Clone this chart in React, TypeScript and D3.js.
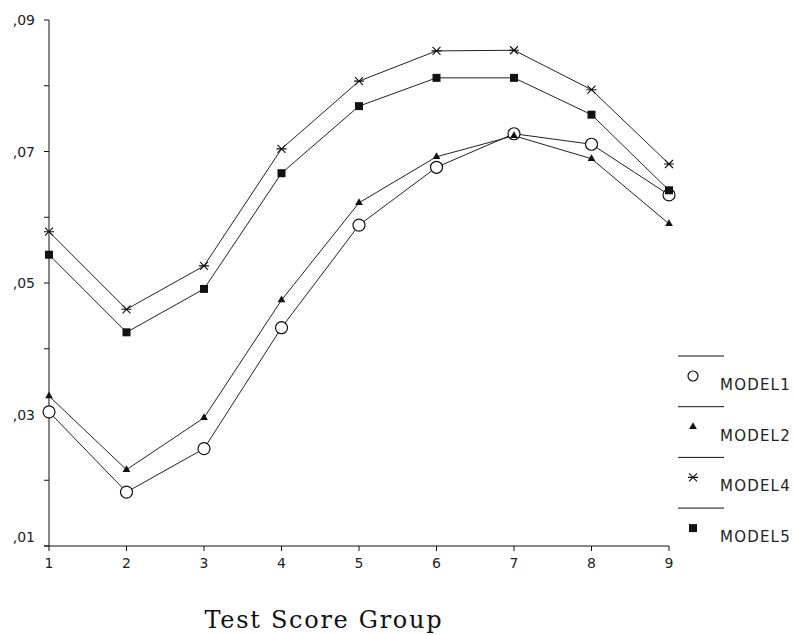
import * as d3 from 'd3';
import { useEffect, useRef } from 'react';

const groups = [1, 2, 3, 4, 5, 6, 7, 8, 9];
const model1 = [0.0304, 0.0182, 0.0248, 0.0432, 0.0588, 0.0676, 0.0727, 0.0711, 0.0634];
const model2 = [0.0328, 0.0216, 0.0295, 0.0474, 0.0622, 0.0692, 0.0724, 0.0689, 0.059];
const model4 = [0.0578, 0.046, 0.0526, 0.0704, 0.0807, 0.0853, 0.0854, 0.0794, 0.0681];
const model5 = [0.0543, 0.0425, 0.0491, 0.0667, 0.0769, 0.0812, 0.0812, 0.0756, 0.0641];
const yTicks = [0.01, 0.02, 0.03, 0.04, 0.05, 0.06, 0.07, 0.08, 0.09];
const yLabels = [0.01, 0.03, 0.05, 0.07, 0.09];
const seriesNames = ['MODEL1', 'MODEL2', 'MODEL4', 'MODEL5'];

const W = 795;
const H = 635;

// draws a marker of the given kind into a <g>
function drawMarker(g: any, kind: string, small = false) {
  if (kind === 'circle') {
    g.append('circle')
      .attr('r', small ? 5 : 6)
      .attr('fill', 'white')
      .attr('stroke', '#111')
      .attr('stroke-width', 1.2);
  } else if (kind === 'triangle') {
    g.append('path').attr('d', d3.symbol().type(d3.symbolTriangle).size(26)()).attr('fill', '#111');
  } else if (kind === 'star') {
    g.append('path')
      .attr('d', 'M-5,0H5M-4,-4L4,4M-4,4L4,-4')
      .attr('stroke', '#111')
      .attr('stroke-width', 1.1)
      .attr('fill', 'none');
  } else {
    g.append('path').attr('d', d3.symbol().type(d3.symbolSquare).size(64)()).attr('fill', '#111');
  }
}

export default function App() {
  const ref = useRef<SVGSVGElement>(null);

  useEffect(() => {
    const svg = d3.select(ref.current);
    svg.selectAll('*').remove();

    const x = d3.scaleLinear().domain([1, 9]).range([49, 669]);
    const y = d3.scaleLinear().domain([0.01, 0.09]).range([546, 20]);
    const fmt = (v: number) => ',' + d3.format('02d')(Math.round(v * 100));

    const font = '"DejaVu Sans", "Liberation Sans", sans-serif';

    // y axis
    svg.append('line').attr('x1', 49).attr('x2', 49).attr('y1', y(0.09)).attr('y2', y(0.01)).attr('stroke', '#111');
    svg
      .selectAll('.yt')
      .data(yTicks)
      .enter()
      .append('line')
      .attr('x1', 44)
      .attr('x2', 49)
      .attr('y1', (d) => y(d))
      .attr('y2', (d) => y(d))
      .attr('stroke', '#111');
    svg
      .selectAll('.yl')
      .data(yLabels)
      .enter()
      .append('text')
      .attr('x', 35)
      // the lowest label is lifted off the x axis
      .attr('y', (d) => y(d) + (d === 0.01 ? -9 : 0))
      .attr('dy', '0.36em')
      .attr('text-anchor', 'end')
      .style('font-family', font)
      .style('font-size', '14px')
      .attr('fill', '#222')
      .text((d) => fmt(d));

    // x axis
    svg.append('line').attr('x1', 44).attr('x2', x(9)).attr('y1', 546).attr('y2', 546).attr('stroke', '#111');
    svg
      .selectAll('.xt')
      .data(groups)
      .enter()
      .append('line')
      .attr('x1', (d) => x(d))
      .attr('x2', (d) => x(d))
      .attr('y1', 546)
      .attr('y2', 551)
      .attr('stroke', '#111');
    svg
      .selectAll('.xl')
      .data(groups)
      .enter()
      .append('text')
      .attr('x', (d) => x(d))
      .attr('y', 568)
      .attr('text-anchor', 'middle')
      .style('font-family', font)
      .style('font-size', '14px')
      .attr('fill', '#222')
      .text((d) => d);

    const line = d3
      .line<number>()
      .x((_, i) => x(groups[i]))
      .y((d) => y(d));

    const series = [
      { values: model1, kind: 'circle' },
      { values: model2, kind: 'triangle' },
      { values: model4, kind: 'star' },
      { values: model5, kind: 'square' },
    ];

    series.forEach((s) => {
      svg
        .append('path')
        .datum(s.values)
        .attr('fill', 'none')
        .attr('stroke', '#222')
        .attr('stroke-width', 1)
        .attr('d', line);
    });
    series.forEach((s) => {
      s.values.forEach((v, i) => {
        const g = svg.append('g').attr('transform', 'translate(' + x(groups[i]) + ',' + y(v) + ')');
        drawMarker(g, s.kind);
      });
    });

    // legend
    seriesNames.forEach((name, i) => {
      const top = 356 + i * 50.7;
      svg.append('line').attr('x1', 678).attr('x2', 724).attr('y1', top).attr('y2', top).attr('stroke', '#111');
      const g = svg.append('g').attr('transform', 'translate(693,' + (top + 20) + ')');
      drawMarker(g, series[i].kind, true);
      svg
        .append('text')
        .attr('x', 720)
        .attr('y', top + 34)
        .style('font-family', font)
        .style('font-size', '15px')
        .style('letter-spacing', '1.2px')
        .attr('fill', '#222')
        .text(name);
    });

    svg
      .append('text')
      .attr('x', 323)
      .attr('y', 628)
      .attr('text-anchor', 'middle')
      .attr('textLength', 237)
      .attr('lengthAdjust', 'spacing')
      .style('font-family', '"DejaVu Serif", "Liberation Serif", serif')
      .style('font-size', '24px')
      .attr('fill', '#111')
      .text('Test Score Group');
  }, []);

  return (
    <svg
      ref={ref}
      width={W}
      height={H}
      style={{ position: 'absolute', left: 0, top: 0, background: 'white' }}
    />
  );
}
